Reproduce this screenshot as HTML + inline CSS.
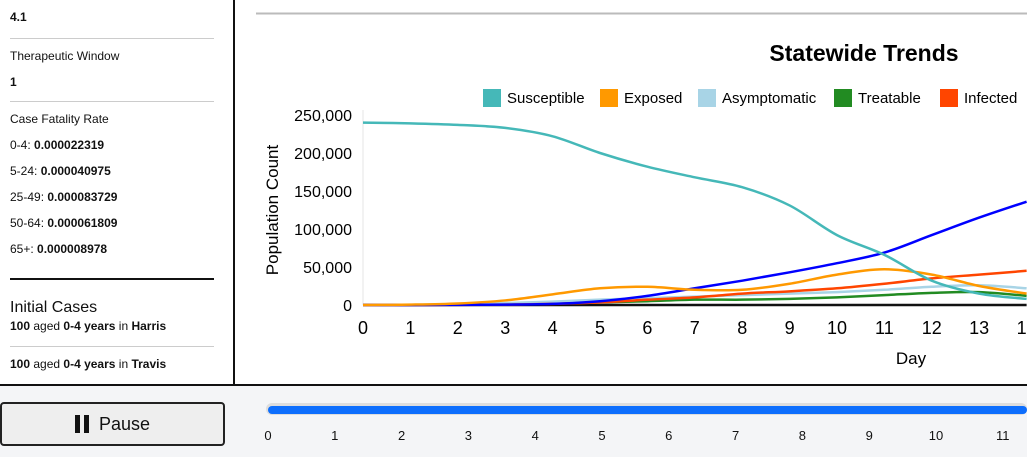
<!DOCTYPE html>
<html><head><meta charset="utf-8"><style>
*{margin:0;padding:0;box-sizing:border-box}
body{width:1027px;height:457px;overflow:hidden;background:#fff;font-family:"Liberation Sans",sans-serif;color:#111;position:relative}
#side{position:absolute;left:0;top:0;width:235px;height:384px;border-right:2px solid #111}
.it{position:absolute;left:10px;font-size:12px}
.hr{position:absolute;left:10px;width:204px;height:1px;background:#ccc}
b{font-weight:bold}
#bottom{position:absolute;left:0;top:384px;width:1027px;height:73px;background:#f4f5f7;border-top:2px solid #111}
#btn{position:absolute;left:0;top:16px;width:225px;height:44px;border:2px solid #222;border-radius:4px;background:#eee;font-size:18px;text-align:center;line-height:40px}
.tk{position:absolute;top:42px;font-size:13px;transform:translateX(-50%)}
</style></head><body>
<div id="side">
<div class="it" style="top:10px;font-weight:bold">4.1</div>
<div class="hr" style="top:38px"></div>
<div class="it" style="top:49px">Therapeutic Window</div>
<div class="it" style="top:75px;font-weight:bold">1</div>
<div class="hr" style="top:101px"></div>
<div class="it" style="top:112px">Case Fatality Rate</div>
<div class="it" style="top:138px">0-4: <b>0.000022319</b></div>
<div class="it" style="top:164px">5-24: <b>0.000040975</b></div>
<div class="it" style="top:190px">25-49: <b>0.000083729</b></div>
<div class="it" style="top:216px">50-64: <b>0.000061809</b></div>
<div class="it" style="top:242px">65+: <b>0.000008978</b></div>
<div class="hr" style="top:278px;height:2px;background:#111"></div>
<div class="it" style="top:299px;font-size:16px">Initial Cases</div>
<div class="it" style="top:319px"><b>100</b> aged <b>0-4 years</b> in <b>Harris</b></div>
<div class="hr" style="top:346px"></div>
<div class="it" style="top:357px"><b>100</b> aged <b>0-4 years</b> in <b>Travis</b></div>
</div>
<svg id="chart" width="1027" height="384" style="position:absolute;left:0;top:0">
<line x1="256" y1="13.5" x2="1027" y2="13.5" stroke="#bbb" stroke-width="2"/>
<text x="864" y="61" text-anchor="middle" font-size="23" font-weight="bold">Statewide Trends</text>
<g id="legend"></g><g id="axes"></g><g id="lines"></g>
<text x="911" y="364" text-anchor="middle" font-size="17">Day</text>
<text transform="translate(278,210) rotate(-90)" text-anchor="middle" font-size="17">Population Count</text>
</svg>
<div id="bottom">
<div id="btn"><span style="display:inline-block;width:5px;height:18px;background:#111;vertical-align:-3px;margin-right:4px"></span><span style="display:inline-block;width:5px;height:18px;background:#111;vertical-align:-3px;margin-right:10px"></span>Pause</div>
<div style="position:absolute;left:266px;top:17px;width:761px;height:12px;background:#ddd;border-radius:6px"></div>
<div style="position:absolute;left:268px;top:20px;width:759px;height:8px;background:#0d6efd;border-radius:4px"></div>
<div id="ticks"></div>
</div>
<script>
const days=[0,1,2,3,4,5,6,7,8,9,10,11,12,13,14];
const yTicks=[0,50000,100000,150000,200000,250000];
const seriesNames=["Susceptible","Exposed","Asymptomatic","Treatable","Infected"];
const seriesColors=["#45b8b8","#ff9900","#a8d4e6","#228b22","#ff4500"];
const susceptible=[240000,239000,237000,233000,222000,200000,182000,168000,155000,131000,92000,66000,32000,15000,8000];
const exposed=[0,500,2000,6000,14000,22000,24000,20000,20000,28000,40000,47000,40000,25000,15000];
const asymptomatic=[0,300,1000,2500,4500,7000,9000,11000,13000,15000,17000,20000,24000,26000,22000];
const treatable=[0,0,200,800,2000,3500,5000,7000,7000,8000,10000,13000,16000,17000,12000];
const infected=[0,0,100,500,1500,3500,7000,10000,15000,18000,22000,28000,35000,40000,45000];
const recovered=[0,0,100,500,1500,5000,12000,22000,32000,43000,55000,69000,92000,115000,136000];
const deceased=[0,0,0,0,0,0,0,0,0,0,0,0,0,0,0];
const NS="http://www.w3.org/2000/svg";
const xS=d=>363+d*47.4, yS=v=>305-v*(190/250000);
function mk(t,a,p){const e=document.createElementNS(NS,t);for(const k in a)e.setAttribute(k,a[k]);p.appendChild(e);return e;}
const ax=document.getElementById('axes');
mk('line',{x1:363,y1:110,x2:363,y2:305,stroke:'#e6e6e6'},ax);
yTicks.forEach(v=>{const t=mk('text',{x:352,y:yS(v)+6,'text-anchor':'end','font-size':16},ax);t.textContent=v.toLocaleString('en-US');

});
days.forEach(d=>{const t=mk('text',{x:xS(d),y:334,'text-anchor':'middle','font-size':18},ax);t.textContent=d;

});
function path(vals){const p=vals.map((v,i)=>[xS(days[i]),yS(v)]);let s='M'+p[0];for(let i=0;i<p.length-1;i++){const p0=p[i-1]||p[i],p1=p[i],p2=p[i+1],p3=p[i+2]||p2;
s+=` C${p1[0]+(p2[0]-p0[0])/6},${p1[1]+(p2[1]-p0[1])/6} ${p2[0]-(p3[0]-p1[0])/6},${p2[1]-(p3[1]-p1[1])/6} ${p2[0]},${p2[1]}`;}return s;}
const lg=document.getElementById('lines');
const all=[[deceased,'#111','deceased'],[treatable,'#228b22','treatable'],[asymptomatic,'#a8d4e6','asymptomatic'],[infected,'#ff4500','infected'],[recovered,'#0000ff','recovered'],[exposed,'#ff9900','exposed'],[susceptible,'#45b8b8','susceptible']];
all.forEach(([v,c,n])=>{const e=mk('path',{d:path(v),fill:'none',stroke:c,'stroke-width':2.5},lg);

});
const lgd=document.getElementById('legend');const lx=[483,600,698,834,940];
seriesNames.forEach((n,i)=>{const g=mk('g',{},lgd);


mk('rect',{x:lx[i],y:89,width:18,height:18,fill:seriesColors[i]},g);const t=mk('text',{x:lx[i]+24,y:103,'font-size':15},g);t.textContent=n;});
const tk=document.getElementById('ticks');
for(let i=0;i<12;i++){const d=document.createElement('div');d.className='tk';d.style.left=(268+i*66.8)+'px';d.textContent=i;

tk.appendChild(d);}
</script>
</body></html>
